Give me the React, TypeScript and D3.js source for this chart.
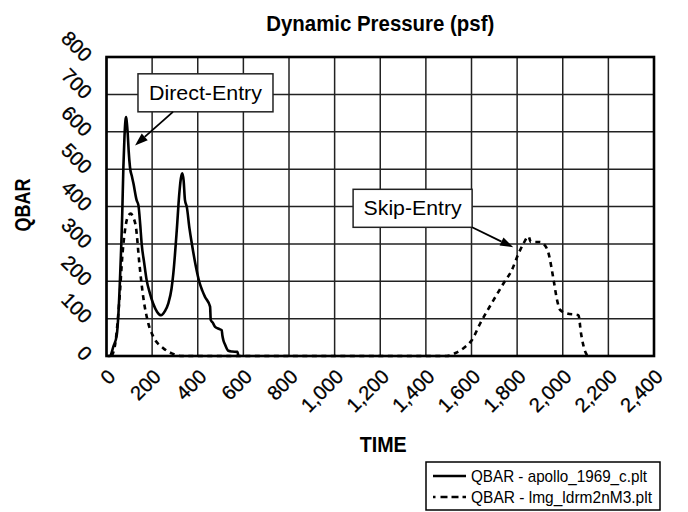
import * as d3 from "d3";

// QBAR - apollo_1969_c.plt (solid)
const apolloTime = [5, 15, 30, 45, 52, 59, 65, 69, 74, 79, 83, 86, 89, 93, 97, 103, 112, 118, 132, 140, 148, 154, 165, 176, 190, 204, 222, 239, 256, 271, 285, 293, 308, 319, 326, 332, 338, 344, 352, 364, 374, 390, 407, 420, 432, 454, 457, 465, 476, 495, 505, 508, 512, 520, 534, 550, 574, 578];
const apolloQbar = [0, 0, 25, 56, 110, 203, 300, 381, 505, 590, 630, 639, 625, 595, 550, 505, 479, 462, 417, 403, 350, 301, 250, 203, 168, 141, 118, 109, 120, 141, 180, 221, 336, 434, 475, 489, 470, 417, 399, 340, 301, 245, 198, 175, 158, 132, 96, 90, 78, 72, 69, 55, 43, 30, 14, 12, 11, 0];

// QBAR - lmg_ldrm2nM3.plt (dashed)
const lmgTime = [23, 40, 52, 60, 67, 81, 93, 106, 118, 129, 144, 161, 183, 205, 249, 286, 330, 1492, 1530, 1565, 1602, 1638, 1697, 1740, 1777, 1806, 1828, 1850, 1860, 1900, 1916, 1938, 1960, 1975, 1989, 2018, 2069, 2080, 2099, 2109];
const lmgQbar = [0, 40, 115, 180, 248, 336, 372, 381, 370, 345, 248, 158, 88, 52, 21, 7, 0, 0, 8, 21, 43, 87, 150, 194, 230, 274, 301, 320, 305, 305, 300, 274, 203, 150, 123, 114, 109, 61, 11, 0];

const xTicks = [0, 200, 400, 600, 800, 1000, 1200, 1400, 1600, 1800, 2000, 2200, 2400];
const yTicks = [0, 100, 200, 300, 400, 500, 600, 700, 800];

const width = 688;
const height = 512;
const marginLeft = 106.5;
const marginRight = 34;
const marginTop = 57;
const marginBottom = 156;

// no condensed face installed, so narrow text is squeezed with textLength
const sans = "'Liberation Sans', Arial, sans-serif";

export default function App() {
  const x = d3.scaleLinear([0, 2400], [marginLeft, width - marginRight]);
  const y = d3.scaleLinear([0, 800], [height - marginBottom, marginTop]);
  const fmt = d3.format(",");

  const line = d3
    .line<number>()
    .x((d) => x(d))
    .curve(d3.curveMonotoneX);

  const apolloPath = line.y((_, i) => y(apolloQbar[i]))(apolloTime) as string;
  const lmgPath = line.y((_, i) => y(lmgQbar[i]))(lmgTime) as string;

  const x0 = x(0);
  const x1 = x(2400);
  const y0 = y(0);
  const y1 = y(800);

  // annotation arrows: from box edge to a point near the curve
  const arrow = (fx: number, fy: number, tx: number, ty: number) => {
    const ang = Math.atan2(ty - fy, tx - fx);
    const len = 13;
    const w = 4.5;
    const bx = tx - len * Math.cos(ang);
    const by = ty - len * Math.sin(ang);
    const px = -Math.sin(ang) * w;
    const py = Math.cos(ang) * w;
    return (
      <g>
        <line x1={fx} y1={fy} x2={bx} y2={by} stroke="#000" strokeWidth={1.8} />
        <polygon
          points={`${tx},${ty} ${bx + px},${by + py} ${bx - px},${by - py}`}
          fill="#000"
        />
      </g>
    );
  };

  const dBox = { x: x(138), y: y(755), w: 135, h: 38 };
  const sBox = { x: x(1081), y: y(446), w: 119, h: 38 };

  return (
    <svg
      width={width}
      height={height}
      style={{ position: "absolute", left: 0, top: 0, background: "#fff" }}
    >
      <text
        x={(x0 + x1) / 2}
        y={31}
        textAnchor="middle"
        fontFamily={sans}
        fontWeight="bold"
        fontSize={22.5}
        textLength={228}
        lengthAdjust="spacingAndGlyphs"
      >
        Dynamic Pressure (psf)
      </text>

      {/* grid */}
      <g stroke="#222" strokeWidth={1.5}>
        {xTicks.map((t) => (
          <line key={"gx" + t} x1={x(t)} x2={x(t)} y1={y1} y2={y0} />
        ))}
        {yTicks.map((t) => (
          <line key={"gy" + t} x1={x0} x2={x1} y1={y(t)} y2={y(t)} />
        ))}
      </g>

      {/* curves */}
      <path d={lmgPath} fill="none" stroke="#000" strokeWidth={2.6} strokeDasharray="5,4.5" />
      <path d={apolloPath} fill="none" stroke="#000" strokeWidth={2.6} strokeLinejoin="round" />

      <rect x={x0} y={y1} width={x1 - x0} height={y0 - y1} fill="none" stroke="#000" strokeWidth={2.6} />

      {/* y tick labels */}
      <g fontFamily={sans} fontSize={20} stroke="#000" strokeWidth={0.3}>
        {yTicks.map((t) => (
          <text
            key={"yl" + t}
            textAnchor="end"
            transform={`translate(${x0 - 23},${y(t) + 6}) rotate(45)`}
          >
            {fmt(t)}
          </text>
        ))}
      </g>

      {/* x tick labels */}
      <g fontFamily={sans} fontSize={20} stroke="#000" strokeWidth={0.3}>
        {xTicks.map((t) => (
          <text
            key={"xl" + t}
            textAnchor="end"
            transform={`translate(${x(t) + 10},${y0 + 22}) rotate(-45)`}
          >
            {fmt(t)}
          </text>
        ))}
      </g>

      <text
        x={(x0 + x1) / 2 + 3}
        y={452}
        textAnchor="middle"
        fontFamily={sans}
        fontWeight="bold"
        fontSize={22}
        textLength={47}
        lengthAdjust="spacingAndGlyphs"
      >
        TIME
      </text>
      <text
        transform={`translate(30,205) rotate(-90)`}
        textAnchor="middle"
        fontFamily={sans}
        fontWeight="bold"
        fontSize={22}
        textLength={53}
        lengthAdjust="spacingAndGlyphs"
      >
        QBAR
      </text>

      {/* annotations */}
      <rect x={dBox.x} y={dBox.y} width={dBox.w} height={dBox.h} fill="#fff" stroke="#222" strokeWidth={1.5} />
      <text
        x={dBox.x + dBox.w / 2}
        y={dBox.y + 26}
        textAnchor="middle"
        fontFamily={sans}
        fontSize={21}
        textLength={113}
        lengthAdjust="spacingAndGlyphs"
      >
        Direct-Entry
      </text>
      {arrow(dBox.x + 35, dBox.y + dBox.h, x(125), y(563))}

      <rect x={sBox.x} y={sBox.y} width={sBox.w} height={sBox.h} fill="#fff" stroke="#222" strokeWidth={1.5} />
      <text
        x={sBox.x + sBox.w / 2}
        y={sBox.y + 26}
        textAnchor="middle"
        fontFamily={sans}
        fontSize={21}
        textLength={98}
        lengthAdjust="spacingAndGlyphs"
      >
        Skip-Entry
      </text>
      {arrow(sBox.x + sBox.w, sBox.y + sBox.h, x(1783), y(291))}

      {/* legend */}
      <g>
        <rect x={426} y={462} width={234} height={48} fill="#fff" stroke="#000" strokeWidth={1.5} />
        <line x1={433} x2={466} y1={476} y2={476} stroke="#000" strokeWidth={2.4} />
        <line x1={433} x2={466} y1={497} y2={497} stroke="#000" strokeWidth={2.4} strokeDasharray="2.5,5,7,4,7,4,7" />
        <text x={471} y={482} fontFamily={sans} fontSize={17} textLength={176} lengthAdjust="spacingAndGlyphs">
          QBAR - apollo_1969_c.plt
        </text>
        <text x={471} y={503} fontFamily={sans} fontSize={17} textLength={181} lengthAdjust="spacingAndGlyphs">
          QBAR - lmg_ldrm2nM3.plt
        </text>
      </g>
    </svg>
  );
}
